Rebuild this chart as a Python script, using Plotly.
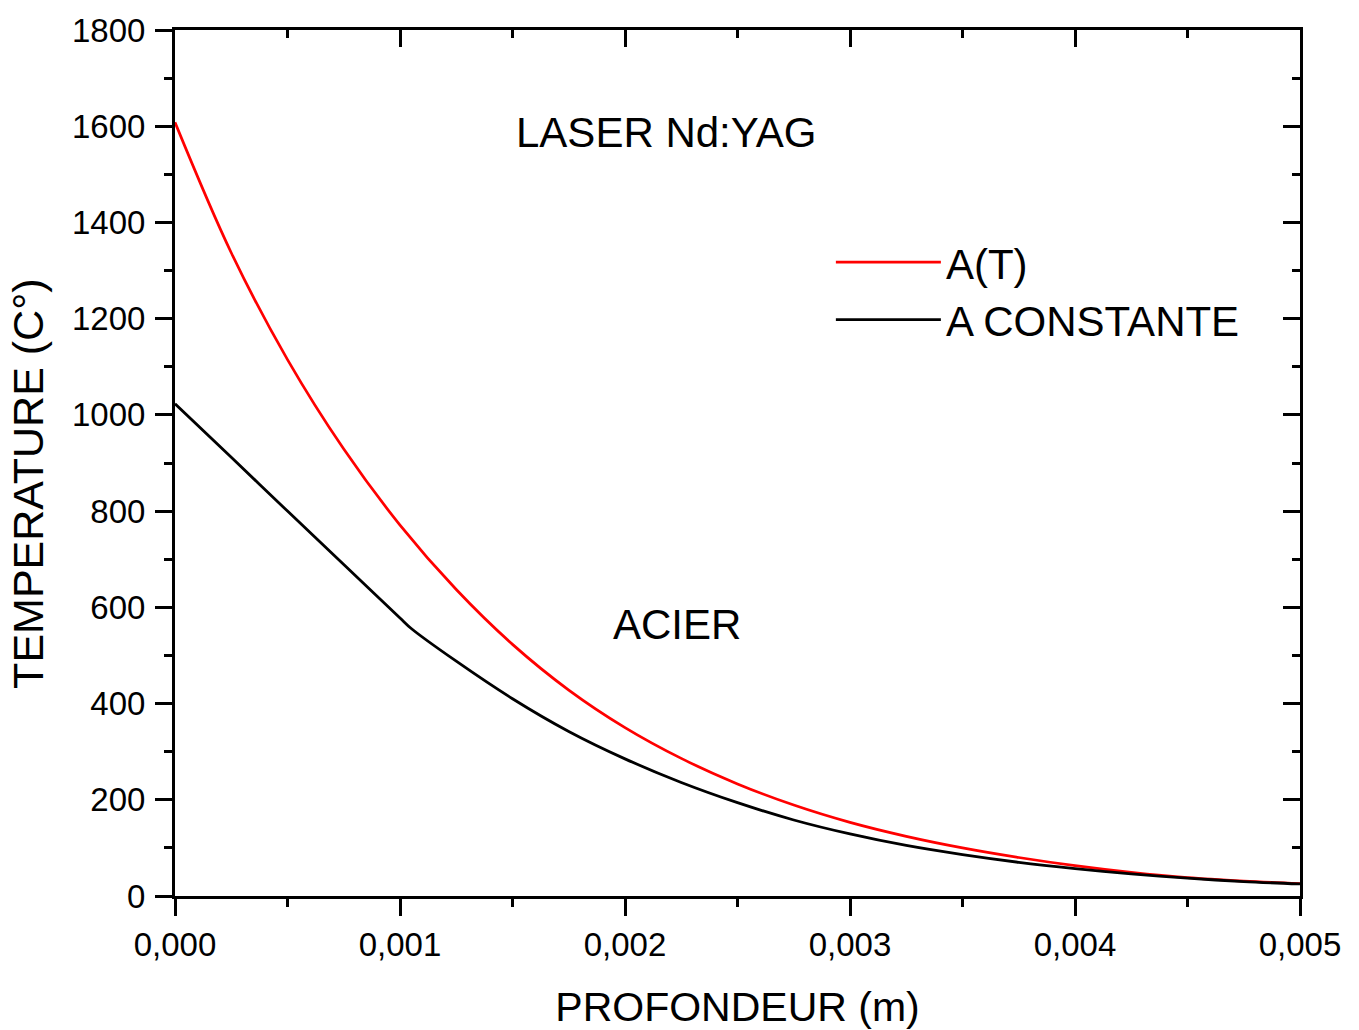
import plotly.graph_objects as go

# Depth (m) and temperature (°C)
x_at = [0, 0.00025, 0.0005, 0.00075, 0.001, 0.00125, 0.0015, 0.00175, 0.002, 0.00225,
        0.0025, 0.00275, 0.003, 0.00325, 0.0035, 0.00375, 0.004, 0.00425, 0.0045,
        0.00475, 0.005]
t_at = [1608, 1337, 1115, 929, 771, 637, 523, 428, 350, 286,
        233, 189, 153, 124, 100, 80, 63, 49, 38,
        31, 26]

x_const = [0, 0.00025, 0.0005, 0.00075, 0.001, 0.00105, 0.00125, 0.0015, 0.00175, 0.002,
           0.00225, 0.0025, 0.00275, 0.003, 0.00325, 0.0035, 0.00375, 0.004, 0.00425,
           0.0045, 0.00475, 0.005]
t_const = [1023, 912, 800, 689, 578, 556, 488, 410, 342, 285,
           236, 194, 158, 129, 105, 86, 70, 57, 46,
           37, 30, 25]

series_names = ["A(T)", "A CONSTANTE"]
x_range = [0, 0.005]
y_range = [0, 1800]
x_ticks = [0, 0.001, 0.002, 0.003, 0.004, 0.005]
y_ticks = [0, 200, 400, 600, 800, 1000, 1200, 1400, 1600, 1800]

FONT = "Liberation Sans, Arial, sans-serif"

fig = go.Figure()
fig.add_trace(go.Scatter(x=x_at, y=t_at, mode="lines", name=series_names[0],
                         line=dict(color="#ff0000", width=2.7, shape="spline", smoothing=1)))
fig.add_trace(go.Scatter(x=x_const, y=t_const, mode="lines", name=series_names[1],
                         line=dict(color="#000000", width=2.8, shape="spline", smoothing=0.8)))

axis_common = dict(showline=True, linecolor="black", linewidth=3, showgrid=False,
                   zeroline=False, tickcolor="black", tickwidth=3, ticklen=17,
                   automargin=False,
                   tickfont=dict(family=FONT, size=33, color="black"))

fig.update_layout(
    width=1359, height=1030,
    margin=dict(l=175, r=59, t=30, b=134),
    paper_bgcolor="white", plot_bgcolor="white",
    separators=", ",
    font=dict(family=FONT, color="black"),
    xaxis=dict(range=x_range, tickvals=x_ticks, tickformat=".3f", ticks="outside",
               minor=dict(dtick=0.0005, ticks="outside", ticklen=8, tickwidth=3, tickcolor="black"),
               title=dict(text="PROFONDEUR (m)", font=dict(family=FONT, size=41), standoff=33),
               ticklabelstandoff=0, **axis_common),
    yaxis=dict(range=y_range, tickvals=y_ticks, tickformat="d", ticks="outside",
               minor=dict(dtick=100, ticks="outside", ticklen=8, tickwidth=3, tickcolor="black"),
               ticklabelstandoff=3, **axis_common),
    xaxis2=dict(range=x_range, overlaying="x", side="top", tickvals=x_ticks, ticks="inside",
                showticklabels=False,
                minor=dict(dtick=0.0005, ticks="inside", ticklen=8, tickwidth=3, tickcolor="black"),
                **axis_common),
    yaxis2=dict(range=y_range, overlaying="y", side="right", tickvals=y_ticks, ticks="inside",
                showticklabels=False,
                minor=dict(dtick=100, ticks="inside", ticklen=8, tickwidth=3, tickcolor="black"),
                **axis_common),
    legend=dict(x=0.583, y=0.771, xanchor="left", yanchor="top",
                bgcolor="rgba(0,0,0,0)", borderwidth=0,
                font=dict(family=FONT, size=42, color="black"),
                itemwidth=105, tracegroupgap=0),
    showlegend=True,
    annotations=[
        dict(text="TEMPERATURE (C°)", x=-0.1307, y=0.477, xref="paper", yref="paper",
             xanchor="center", yanchor="middle", textangle=-90, showarrow=False,
             font=dict(family=FONT, size=43, color="black")),
        dict(text="LASER Nd:YAG", x=0.002182, y=1588, xref="x", yref="y", showarrow=False,
             font=dict(family=FONT, size=42, color="black")),
        dict(text="ACIER", x=0.002231, y=565, xref="x", yref="y", showarrow=False,
             font=dict(family=FONT, size=42, color="black")),
    ],
)

# invisible trace to anchor the mirror axes
fig.add_trace(go.Scatter(x=x_range, y=y_range, xaxis="x2", yaxis="y2", mode="lines",
                         line=dict(width=0), showlegend=False, hoverinfo="skip"))

fig.write_html("out.html")
